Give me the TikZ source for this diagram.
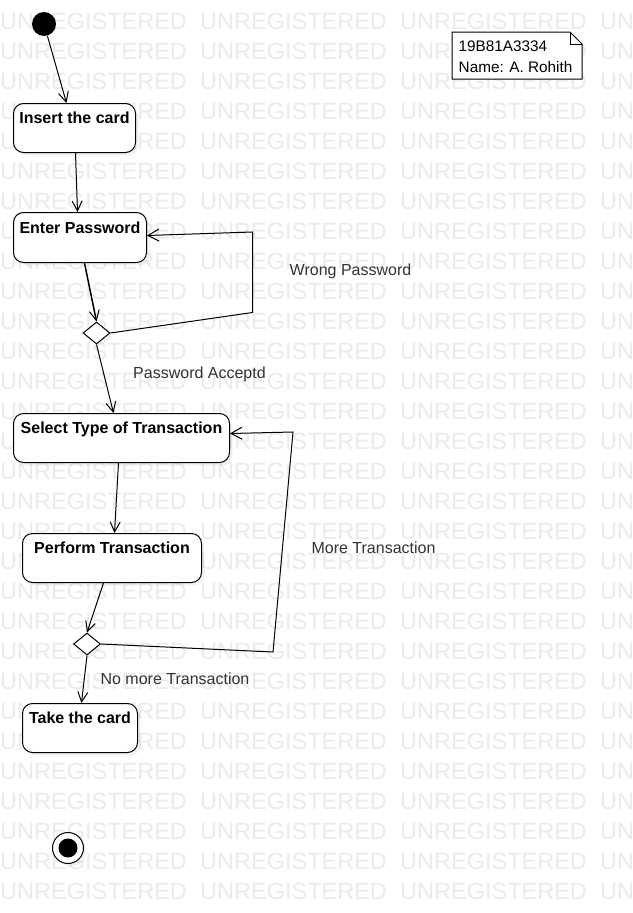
\documentclass[tikz,border=0pt]{standalone}
\usepackage{fontspec}
\setmainfont{Liberation Sans}
\usetikzlibrary{arrows.meta,shapes.geometric,shadows,calc}
\begin{document}
\begin{tikzpicture}[x=1pt,y=-1pt,
  wm/.style={font=\fontsize{23.5}{26}\selectfont, text=black!8, inner sep=0pt, anchor=west},
  actbox/.style={draw=black, line width=1pt, fill=white, rounded corners=10pt,
    inner sep=0pt, anchor=north west, minimum height=49pt,
    text height=20.3pt, text depth=28.7pt,
    font=\fontsize{16}{19}\bfseries\selectfont,
    drop shadow={shadow xshift=3pt, shadow yshift=-3pt, opacity=0.10}},
  decision/.style={diamond, draw=black, line width=1pt, fill=white, inner sep=0pt,
    minimum width=27pt, minimum height=22pt,
    drop shadow={shadow xshift=3pt, shadow yshift=-3pt, opacity=0.10}},
  lbl/.style={font=\fontsize{16}{19}\selectfont, text=black!80, inner sep=0pt, anchor=base},
  flow/.style={draw=black, line width=1pt, -{Straight Barb[length=10pt,width=10pt,line width=1pt]}},
  loopflow/.style={draw=black, line width=1pt, -{Straight Barb[length=11pt,width=12pt,line width=1pt]}},
  notetext/.style={font=\fontsize{15.3}{21}\selectfont, inner sep=0pt, align=left, anchor=north west}
]
\useasboundingbox (0,0) rectangle (632,913);
\fill[white] (0,0) rectangle (632,913);

% watermark
\foreach \r in {0,...,29} {
  \foreach \c in {0,...,3} {
    \node[wm] (wm-\r-\c) at (\c*200, 21+\r*30) {UNREGISTERED};
  }
}

% note
\coordinate (n1) at (452,32);
\coordinate (n2) at (570,32);
\coordinate (n3) at (582,44);
\coordinate (n4) at (582,79);
\coordinate (n5) at (452,79);
\coordinate (n6) at (570,44);
\filldraw[fill=white, draw=black, line width=1pt] (n1) -- (n2) -- (n3) -- (n4) -- (n5) -- cycle;
\draw[line width=1pt] (n2) -- (n6) -- (n3);
\node[notetext] (note) at (458.5,40.5) {19B81A3334\\Name: A. Rohith};

% start / end
\node[circle, fill=black, minimum size=24pt, inner sep=0pt] (start) at (44,24) {};
\node[circle, draw=black, line width=1pt, fill=white, minimum size=31pt, inner sep=0pt,
  drop shadow={shadow xshift=3pt, shadow yshift=-3pt, opacity=0.10}] (end) at (68,848) {};
\node[circle, fill=black, minimum size=19pt, inner sep=0pt] (endcore) at (68,848) {};

% activities
\node[actbox, minimum width=122pt] (ins) at (13,103) {Insert the card};
\node[actbox, minimum width=133pt, minimum height=50pt] (enter) at (13,212) {Enter Password};
\node[actbox, minimum width=216pt] (select) at (13,413) {Select Type of Transaction};
\node[actbox, minimum width=179pt] (perform) at (22,533) {Perform Transaction};
\node[actbox, minimum width=115pt] (take) at (22,703) {Take the card};

% decisions
\node[decision] (d1) at (96.5,333) {};
\node[decision] (d2) at (87,644) {};

% flows
\draw[flow] (start) -- ([xshift=-8pt]ins.north);
\draw[flow] ([xshift=1pt]ins.south) -- ([xshift=-2.5pt]enter.north);
\draw[flow, line width=1.5pt] ([xshift=4.5pt]enter.south) -- (d1.north);
\draw[flow] (d1.south) -- ([xshift=-8pt]select.north);
\draw[flow] ([xshift=-3pt]select.south) -- ([xshift=2.5pt]perform.north);
\draw[flow] ([xshift=-8.5pt]perform.south) -- (d2.north);
\draw[flow] (d2.south) -- ([xshift=1.5pt]take.north);

% loops
\coordinate (w1) at (252.5,312.5);
\coordinate (w2) at (252.5,232);
\draw[loopflow] (d1.east) -- (w1) -- (w2) -- ([yshift=2pt]enter.east);
\coordinate (m1) at (273,652);
\coordinate (m2) at (293,432);
\draw[loopflow] (d2.east) -- (m1) -- (m2) -- ([yshift=4.5pt]select.east);

% labels
\node[lbl] (lwrong) at (350.5,275) {Wrong Password};
\node[lbl] (lacc) at (199.5,378.3) {Password Acceptd};
\node[lbl] (lmore) at (373.5,553.3) {More Transaction};
\node[lbl] (lnomore) at (175,684.3) {No more Transaction};
\end{tikzpicture}
\end{document}
